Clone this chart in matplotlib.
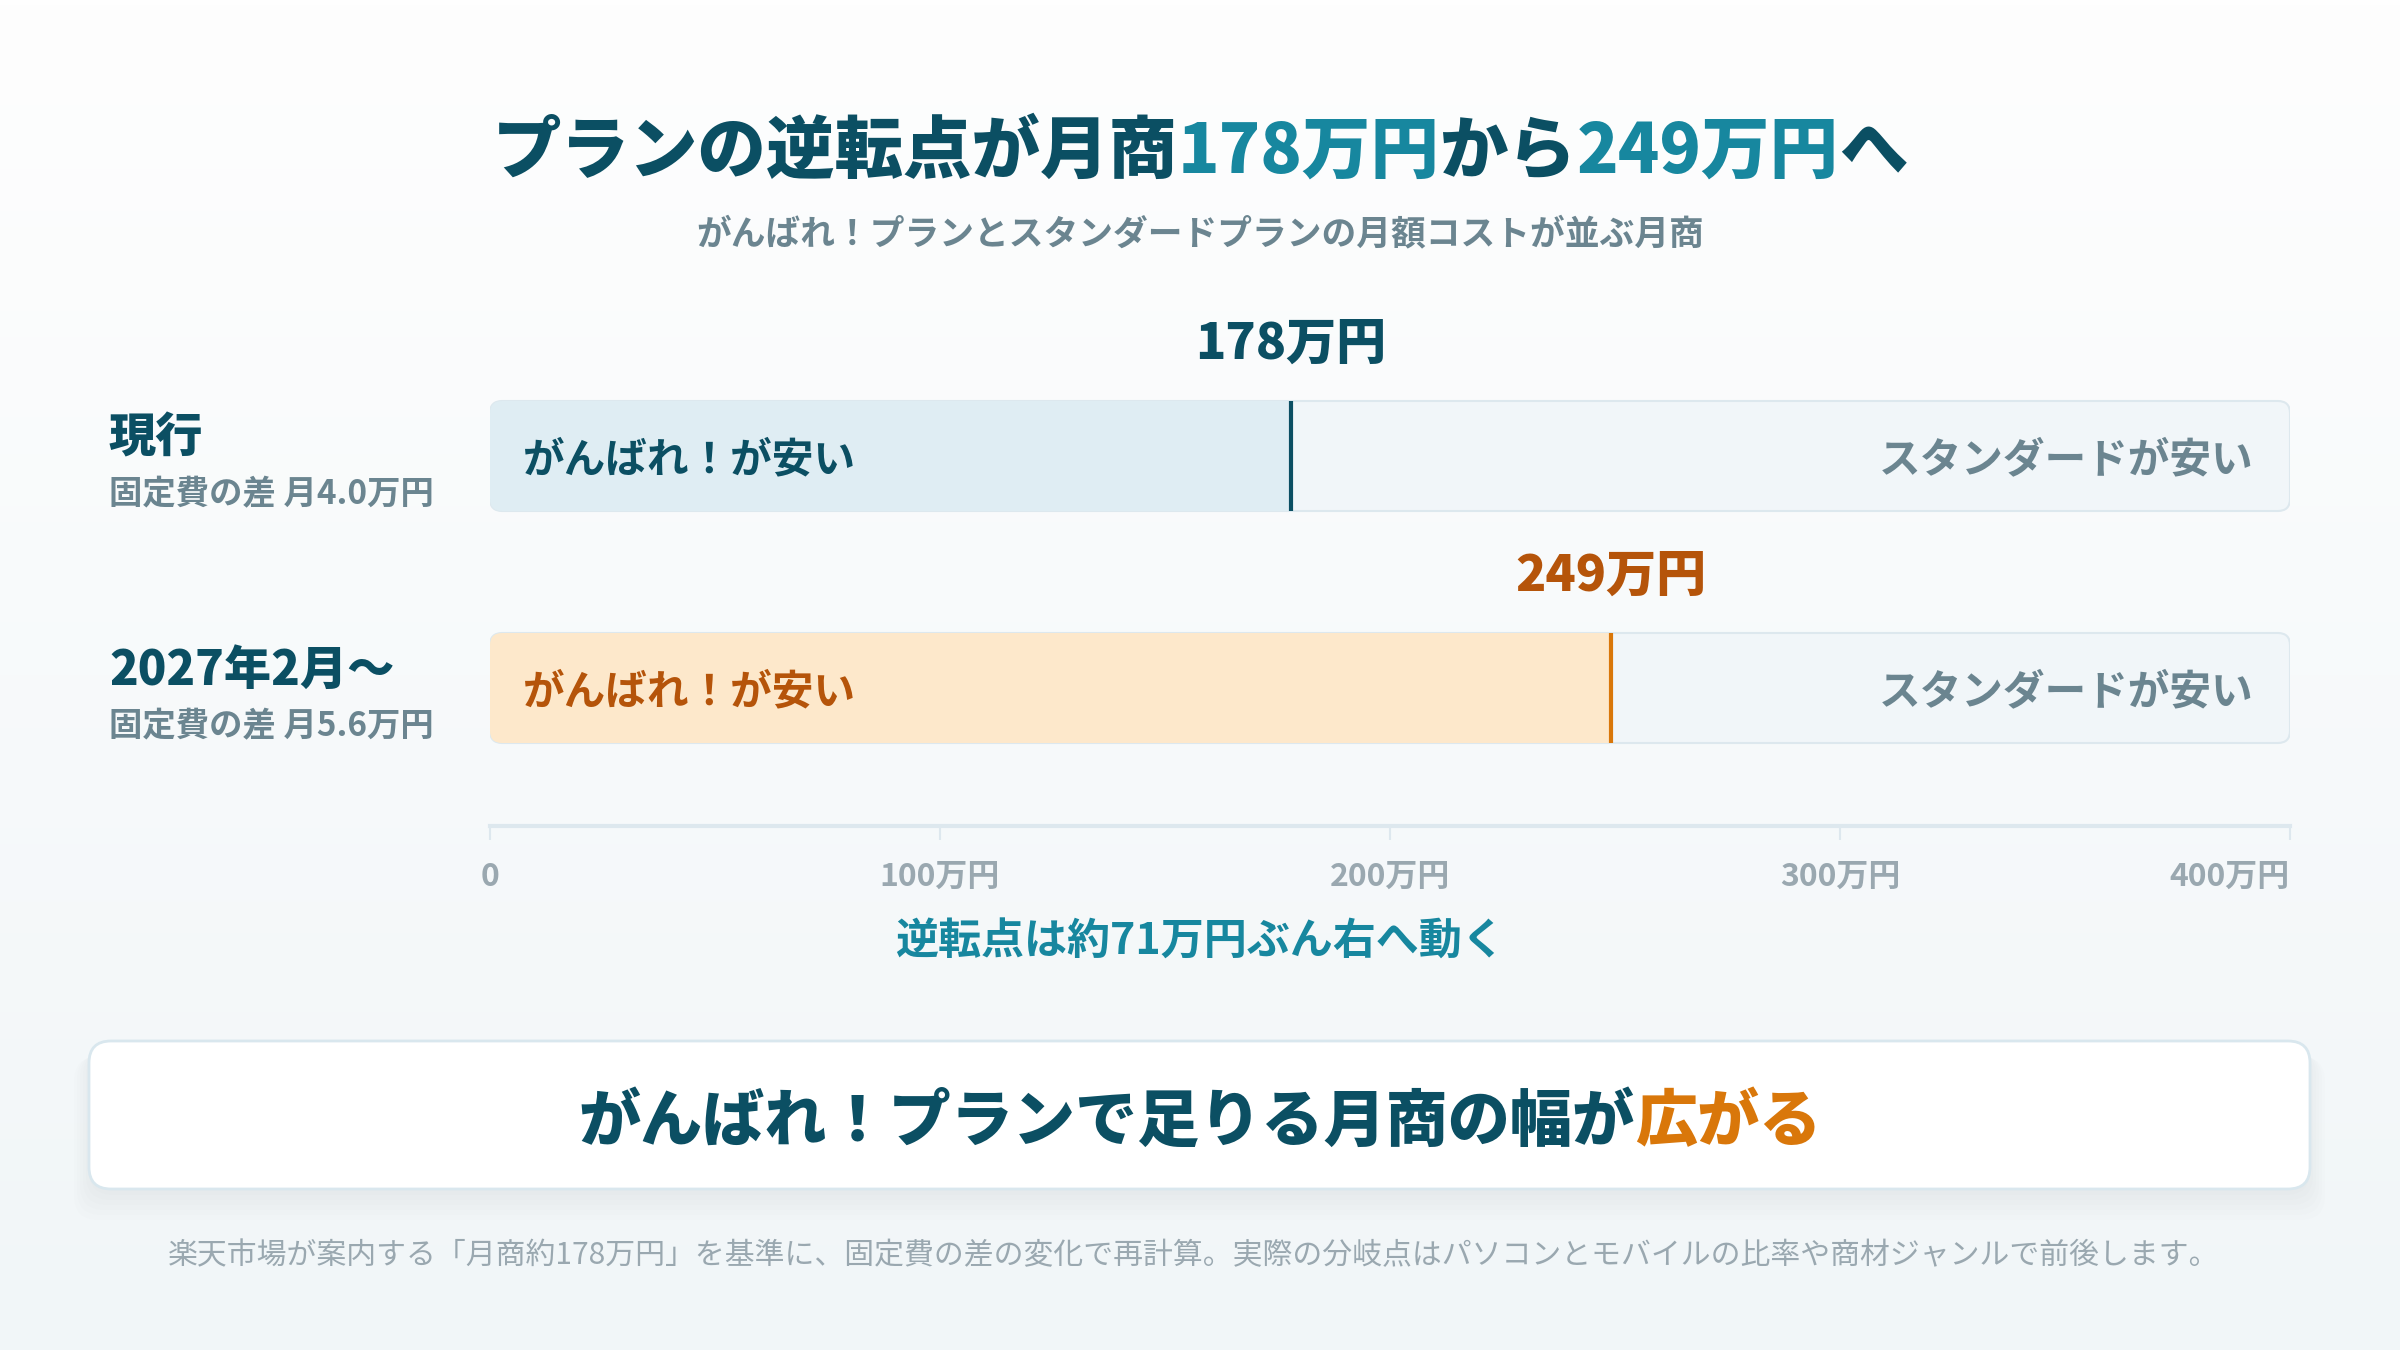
#! /usr/bin/env python3
# 損益分岐: がんばれ！プラン vs スタンダード
import matplotlib
matplotlib.use('Agg')
import matplotlib.pyplot as plt
import numpy as np
from matplotlib.patches import FancyBboxPatch
from matplotlib.colors import LinearSegmentedColormap
from matplotlib.transforms import blended_transform_factory

plt.rcParams['font.family'] = ['Noto Sans CJK JP', 'DejaVu Sans']

# data
rows = ['現行', '2027年2月〜']
fixed_gap = [4.0, 5.6]      # 固定費の差 (万円/月)
breakeven = [178, 249]      # 逆転点 (万円)
x_max = 400
ticks = [0, 100, 200, 300, 400]
tick_labels = ['0', '100万円', '200万円', '300万円', '400万円']
left_label = 'がんばれ！が安い'
right_label = 'スタンダードが安い'

DARK = '#0b4f63'
TEAL = '#17879f'
GRAY = '#6b8590'
LIGHT = '#9aa8b0'
ORANGE = '#d9770a'
fill_colors = ['#dfedf3', '#fde8cb']
line_colors = [DARK, ORANGE]
text_colors = [DARK, '#b5540a']

W, H = 2400, 1350
DY = 4  # nudge for CJK vertical centring (px)
fig = plt.figure(figsize=(24, 13.5), dpi=100)

# background layer in pixel units
bg = fig.add_axes([0, 0, 1, 1])
grad = np.linspace(0, 1, 256).reshape(-1, 1)
cmap = LinearSegmentedColormap.from_list('bg', ['#fefefe', '#f1f6f8'])
bg.imshow(grad, extent=(0, W, H, 0), aspect='auto', cmap=cmap, zorder=0)
bg.set_xlim(0, W)
bg.set_ylim(H, 0)
bg.axis('off')


def colored_line(y, parts, size, weight='bold', cx=W / 2):
    r = fig.canvas.get_renderer()
    texts = [bg.text(0, y + DY, s, color=c, fontsize=size, fontweight=weight,
                     va='center', ha='left', zorder=5) for s, c in parts]
    widths = [t.get_window_extent(r).width for t in texts]
    x = cx - sum(widths) / 2
    for t, w in zip(texts, widths):
        t.set_x(x)
        x += w


# title
colored_line(148, [('プランの逆転点が月商', DARK), (f'{breakeven[0]}万円', TEAL),
                   ('から', DARK), (f'{breakeven[1]}万円', TEAL), ('へ', DARK)], 49.3,
             weight='heavy')
bg.text(W / 2, 230 + DY, 'がんばれ！プランとスタンダードプランの月額コストが並ぶ月商',
        ha='center', va='center', fontsize=25, fontweight='bold', color=GRAY)

# chart
row_px = 232
dy = DY / row_px
ax = fig.add_axes([490 / W, 1 - 826 / H, 1800 / W, 428 / H])
ax.set_xlim(0, x_max)
ax.set_ylim(370 / row_px, -0.25)
ax.patch.set_alpha(0)
h = 110 / row_px
aspect = (1.845 / 428) / (x_max / 1800)

for i, b in enumerate(breakeven):
    full = FancyBboxPatch((0, i - h / 2), x_max, h,
                          boxstyle='round,pad=0,rounding_size=2.7',
                          mutation_aspect=aspect, fc='#f1f6f9', ec='#dde8ee',
                          lw=1.5, zorder=1)
    ax.add_patch(full)
    bar = ax.barh(i, b, height=h, left=0, color=fill_colors[i], zorder=2)
    bar[0].set_clip_path(full)
    ax.plot([b, b], [i - h / 2, i + h / 2], color=line_colors[i], lw=3,
            solid_capstyle='butt', zorder=3)
    ax.text(7.3, i + dy, left_label, ha='left', va='center', fontsize=30,
            fontweight='bold', color=text_colors[i], zorder=4)
    ax.text(391.8, i + dy, right_label, ha='right', va='center', fontsize=30,
            fontweight='bold', color=GRAY, zorder=4)
    ax.text(b, i - 0.5 + dy, f'{b}万円', ha='center', va='center', fontsize=36,
            fontweight='heavy', color=text_colors[i], clip_on=False)

# row labels on the left
tr = blended_transform_factory(bg.transData, ax.transData)
for i, (name, gap) in enumerate(zip(rows, fixed_gap)):
    ax.text(109, i - 0.092 + dy, name, transform=tr, ha='left', va='center',
            fontsize=34, fontweight='heavy', color=DARK, clip_on=False)
    ax.text(109, i + 0.15 + dy, f'固定費の差 月{gap:.1f}万円', transform=tr, ha='left',
            va='center', fontsize=24, fontweight='bold', color=GRAY, clip_on=False)

for s in ['top', 'left', 'right']:
    ax.spines[s].set_visible(False)
ax.spines['bottom'].set_color('#dde8ee')
ax.spines['bottom'].set_linewidth(3)
ax.set_yticks([])
ax.set_xticks(ticks)
ax.set_xticklabels(tick_labels, fontweight='bold')
ax.tick_params(axis='x', direction='out', length=10, width=1.5, color='#dde8ee',
               labelsize=23, labelcolor=LIGHT, pad=15)
ax.get_xticklabels()[-1].set_ha('right')

shift = breakeven[1] - breakeven[0]
bg.text(W / 2, 938 + DY, f'逆転点は約{shift}万円ぶん右へ動く', ha='center', va='center',
        fontsize=31, fontweight='bold', color=TEAL)

# bottom message box
for k in range(6):
    bg.add_patch(FancyBboxPatch((89 - k * 3, 1041 + 6 + k * 2), 2221 + k * 6, 148 + k * 3,
                                boxstyle='round,pad=0,rounding_size=24',
                                fc='#0b4f63', ec='none', alpha=0.008, zorder=2))
bg.add_patch(FancyBboxPatch((89, 1041), 2221, 148, boxstyle='round,pad=0,rounding_size=22',
                            fc='white', ec='#d9e7ee', lw=2, zorder=3))
colored_line(1119, [('がんばれ！プランで足りる月商の幅が', DARK), ('広がる', ORANGE)], 44.7,
             weight='heavy')

bg.text(W / 2 - 6, 1252 + DY,
        '楽天市場が案内する「月商約178万円」を基準に、固定費の差の変化で再計算。'
        '実際の分岐点はパソコンとモバイルの比率や商材ジャンルで前後します。',
        ha='center', va='center', fontsize=21.5, color=LIGHT)

fig.savefig('out.png', dpi=100)
